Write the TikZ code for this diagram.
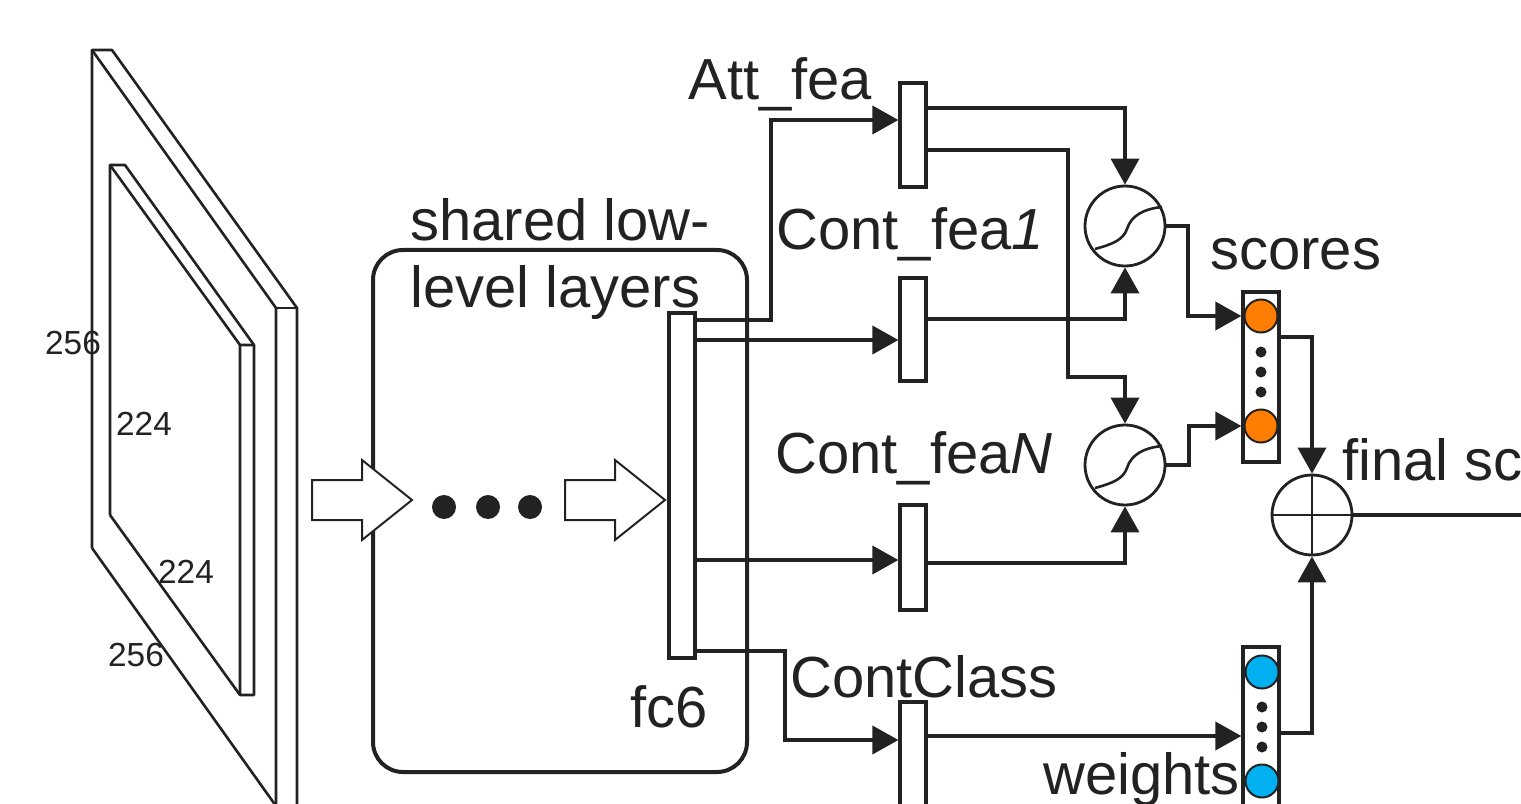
\documentclass[tikz,border=0pt]{standalone}
\usepackage{fontspec}
\setmainfont{Liberation Sans}
\usetikzlibrary{arrows.meta}
\newlength\pu
\setlength\pu{0.02cm}
\definecolor{linec}{RGB}{34,34,34}
\definecolor{dotorange}{RGB}{255,125,0}
\definecolor{dotblue}{RGB}{0,176,240}
\tikzset{
  conn/.style={draw=linec,line width=3.8\pu,-{Triangle[length=0.52cm,width=0.56cm]}},
  plain/.style={draw=linec,line width=3.8\pu},
  bar/.style={draw=linec,fill=white,line width=3.2\pu,inner sep=0pt,minimum width=26\pu},
  vec/.style={draw=linec,fill=white,line width=3.2\pu,inner sep=0pt,minimum width=36\pu},
  sig/.style={draw=linec,circle,line width=2.8\pu,inner sep=0pt,minimum size=80\pu},
  bigdot/.style={circle,draw=linec,line width=2\pu,inner sep=0pt,minimum size=33\pu},
  smalldot/.style={circle,fill=linec,inner sep=0pt,minimum size=11\pu},
  plate/.style={draw=linec,line width=2.6\pu,line join=round},
  lbl/.style={inner sep=0pt,anchor=base west,text=linec,font=\fontsize{33}{40}\selectfont},
  num/.style={inner sep=0pt,text=linec,font=\fontsize{19}{22}\selectfont},
  blockarrow/.style={draw=linec,fill=white,line width=2\pu}
}
\begin{document}
\begin{tikzpicture}[x=0.02cm,y=-0.02cm]
\clip (0,0) rectangle (1521,804);
\fill[white] (0,0) rectangle (1521,804);

% dimension labels
\node[num] (n256a) at (73,343) {256};
\node[num] (n224a) at (144,424) {224};
\node[num] (n224b) at (186,572) {224};
\node[num] (n256b) at (136,655) {256};

% outer plate
\draw[plate] (92,548) -- (92,50) -- (112,50) -- (297,308) -- (297,830);
\draw[plate] (92,50) -- (276,308) -- (276,830);
\draw[plate] (276,308) -- (297,308);
\draw[plate] (92,548) -- (276,806);
% inner plate
\draw[plate] (110,515) -- (110,165) -- (125,165) -- (254,345) -- (254,695) -- (240,695) -- (240,345);
\draw[plate] (110,165) -- (240,345) -- (254,345);
\draw[plate] (110,515) -- (240,695);

% shared box
\node[draw=linec,line width=4\pu,rounded corners=0.6cm,inner sep=0pt,minimum width=374\pu,minimum height=522\pu] (shared) at (560,511) {};
\node[lbl] (t1) at (410,240) {shared low-};
\node[lbl] (t2) at (410,307) {level layers};

% block arrows and dots
\draw[blockarrow] (312,480) -- (362,480) -- (362,460) -- (412,500) -- (362,540) -- (362,520) -- (312,520) -- cycle;
\draw[blockarrow] (565,480) -- (615,480) -- (615,460) -- (665,500) -- (615,540) -- (615,520) -- (565,520) -- cycle;
\node[circle,fill=linec,inner sep=0pt,minimum size=24\pu] (d1) at (444,507) {};
\node[circle,fill=linec,inner sep=0pt,minimum size=24\pu] (d2) at (488,507) {};
\node[circle,fill=linec,inner sep=0pt,minimum size=24\pu] (d3) at (530,507) {};

% fc6
\node[bar,minimum height=345\pu] (fc6) at (682,485.5) {};
\node[lbl] (fc6l) at (630,727) {fc6};

% feature bars
\node[bar,minimum height=104\pu] (att) at (913,135) {};
\node[bar,minimum height=103\pu] (c1) at (913,329.5) {};
\node[bar,minimum height=105\pu] (cN) at (913,557.5) {};
\node[bar,minimum height=140\pu] (cc) at (913,772) {};

\node[lbl] (attl) at (688,100) {Att\_fea};
\node[lbl] (c1l) at (776,250) {Cont\_fea\textit{1}};
\node[lbl] (cNl) at (775,473) {Cont\_fea\textit{N}};
\node[lbl] (ccl) at (790,697) {ContClass};

% sigmoid units
\node[sig] (sig1) at (1125,226) {};
\node[sig] (sig2) at (1125,465) {};
\draw[linec,line width=2.6\pu,shift={(sig1.center)}] (-30,23) .. controls (-12,18) and (-2,14) .. (2,3) .. controls (6,-10) and (18,-17) .. (37,-19);
\draw[linec,line width=2.6\pu,shift={(sig2.center)}] (-30,23) .. controls (-12,18) and (-2,14) .. (2,3) .. controls (6,-10) and (18,-17) .. (37,-19);

% scores vector
\node[vec,minimum height=170\pu] (scores) at (1261,377) {};
\node[bigdot,fill=dotorange] (s1) at (1261,316) {};
\node[bigdot,fill=dotorange] (s2) at (1261,426) {};
\node[smalldot] (sd1) at (1261,352) {};
\node[smalldot] (sd2) at (1261,372) {};
\node[smalldot] (sd3) at (1261,392) {};
\node[lbl] (scl) at (1210,270) {scores};

% weights vector
\node[vec,minimum height=200\pu] (weights) at (1261,747) {};
\node[bigdot,fill=dotblue] (w1) at (1262,672) {};
\node[bigdot,fill=dotblue] (w2) at (1262,781) {};
\node[smalldot] (wd1) at (1262,707) {};
\node[smalldot] (wd2) at (1262,727) {};
\node[smalldot] (wd3) at (1262,747) {};
\node[lbl] (wl) at (1043,794) {weights};

% final sum
\node[sig] (oplus) at (1312,515) {};
\draw[plain,line width=2.8\pu] (oplus.north) -- (oplus.south);
\draw[plain,line width=2.8\pu] (oplus.west) -- (oplus.east);
\node[lbl] (fl) at (1342,480) {final score};
\coordinate (outend) at (1530,515);

% connectors from fc6
\draw[conn] (fc6.east |- 0,320) -- (771,320) -- (771,120) -- (att.west |- 0,120);
\draw[conn] (fc6.east |- 0,340) -- (c1.west |- 0,340);
\draw[conn] (fc6.east |- 0,560) -- (cN.west |- 0,560);
\draw[conn] (fc6.east |- 0,651) -- (785,651) -- (785,740) -- (cc.west |- 0,740);

% connectors to sigmoids
\draw[conn] (att.east |- 0,108) -| (sig1.north);
\draw[conn] (c1.east |- 0,319) -| (sig1.south);
\draw[conn] (att.east |- 0,150) -- (1068,150) -- (1068,377) -| (sig2.north);
\draw[conn] (cN.east |- 0,563) -| (sig2.south);

% sigmoids to scores
\draw[conn] (sig1.east) -- (1188,226) |- (scores.west |- s1);
\draw[conn] (sig2.east) -- (1189,465) |- (scores.west |- s2);

% to final sum
\draw[conn] (scores.east |- 0,337) -| (oplus.north);
\draw[conn] (cc.east |- 0,736) -- (weights.west |- 0,736);
\draw[conn] (weights.east |- 0,733) -| (oplus.south);
\draw[plain] (oplus.east) -- (outend);
\end{tikzpicture}
\end{document}
